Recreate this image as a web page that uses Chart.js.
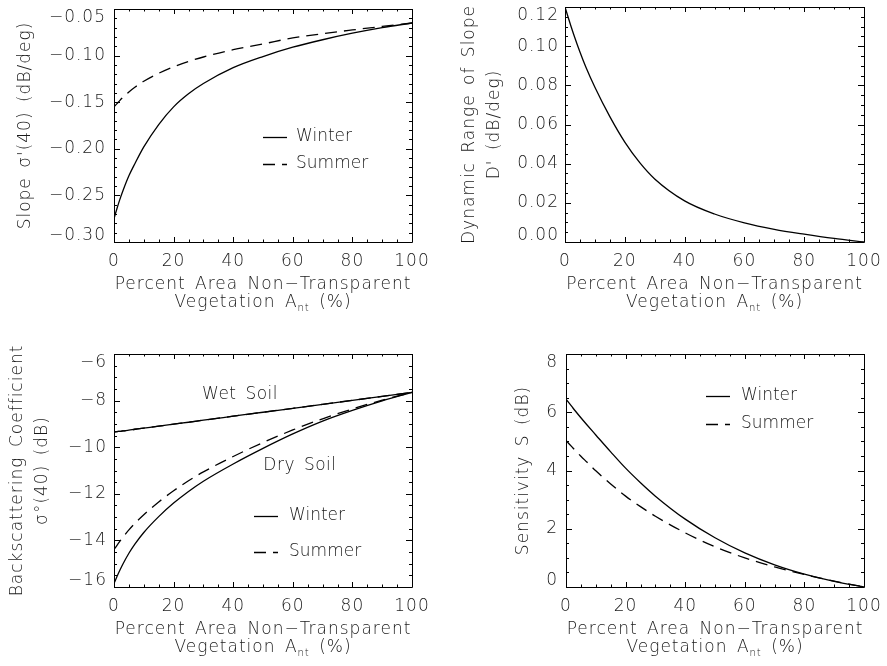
<!DOCTYPE html>
<html>
<head>
<meta charset="utf-8">
<script src="https://cdn.jsdelivr.net/npm/chart.js@4.4.1/dist/chart.umd.min.js"></script>
<style>
  html, body { margin: 0; padding: 0; background: #fff; }
  #page { position: relative; width: 887px; height: 666px; overflow: hidden; }
  #page canvas { position: absolute; }
</style>
</head>
<body>
<div id="page">
  <canvas id="slopeChart" width="443" height="333" style="left:0;top:0"></canvas>
  <canvas id="rangeChart" width="444" height="333" style="left:443px;top:0"></canvas>
  <canvas id="backscatterChart" width="443" height="333" style="left:0;top:333px"></canvas>
  <canvas id="sensitivityChart" width="444" height="333" style="left:443px;top:333px"></canvas>
</div>
<script>
// percent area of non-transparent vegetation, shared x for all four panels
const percentArea = [0, 1, 2, 3, 5, 7, 10, 15, 20, 25, 30, 40, 50, 60, 70, 80, 90, 100];

// slope of sigma at 40 deg (dB/deg)
const slopeWinter = [-0.275, -0.264, -0.254, -0.245, -0.229, -0.216, -0.198, -0.174, -0.155, -0.141, -0.130, -0.113, -0.101, -0.091, -0.083, -0.076, -0.070, -0.065];
const slopeSummer = [-0.155, -0.1515, -0.148, -0.1448, -0.139, -0.134, -0.1275, -0.119, -0.112, -0.1063, -0.1015, -0.0937, -0.0875, -0.081, -0.0765, -0.0725, -0.0687, -0.065];

// dynamic range of slope D' (dB/deg)
const slopeRange = [0.1200, 0.1150, 0.1102, 0.1056, 0.0970, 0.0892, 0.0790, 0.0640, 0.0510, 0.0405, 0.0322, 0.0210, 0.0143, 0.0098, 0.0065, 0.0040, 0.0018, 0.0000];

// backscattering coefficient sigma0(40) (dB)
const wetSoilWinter = [-9.35, -9.33, -9.32, -9.30, -9.27, -9.23, -9.18, -9.10, -9.01, -8.93, -8.84, -8.67, -8.50, -8.33, -8.16, -7.99, -7.82, -7.65];
const wetSoilSummer = [-9.35, -9.33, -9.32, -9.30, -9.27, -9.23, -9.18, -9.10, -9.01, -8.93, -8.84, -8.67, -8.50, -8.33, -8.16, -7.99, -7.82, -7.65];
const drySoilWinter = [-15.85, -15.55, -15.27, -15.01, -14.55, -14.16, -13.66, -12.98, -12.40, -11.90, -11.46, -10.72, -10.05, -9.43, -8.88, -8.42, -8.01, -7.65];
const drySoilSummer = [-14.40, -14.21, -14.03, -13.86, -13.55, -13.27, -12.90, -12.35, -11.87, -11.44, -11.06, -10.40, -9.80, -9.26, -8.78, -8.36, -7.98, -7.65];

// sensitivity S (dB)
const sensWinter = [6.45, 6.32, 6.19, 6.06, 5.81, 5.57, 5.22, 4.64, 4.08, 3.58, 3.12, 2.33, 1.69, 1.17, 0.76, 0.44, 0.19, 0.00];
const sensSummer = [5.03, 4.92, 4.81, 4.70, 4.49, 4.29, 3.99, 3.54, 3.12, 2.76, 2.43, 1.86, 1.38, 1.00, 0.69, 0.43, 0.20, 0.00];

// major tick values
const xTicks = [0, 20, 40, 60, 80, 100];
const slopeTicks = [-0.30, -0.25, -0.20, -0.15, -0.10, -0.05];
const rangeTicks = [0.00, 0.02, 0.04, 0.06, 0.08, 0.10, 0.12];
const backscatterTicks = [-16, -14, -12, -10, -8, -6];
const sensitivityTicks = [0, 2, 4, 6, 8];

const INK = '#1a1a1a';
const FONT = 'DejaVu Sans';
const WEIGHT = '200';
const DASH = [12, 7];

Chart.defaults.font.family = FONT;
Chart.defaults.font.size = 17;
Chart.defaults.font.weight = WEIGHT;
Chart.defaults.color = INK;

const font = size => WEIGHT + ' ' + size + 'px "' + FONT + '"';
const minus = s => s.replace('-', '\u2212');

function series(values) {
  return percentArea.map((x, i) => ({ x: x, y: values[i] }));
}

function line(label, values, dashed) {
  return {
    label: label,
    data: series(values),
    borderColor: '#000',
    borderWidth: 1.3,
    borderDash: dashed ? DASH : [],
    pointRadius: 0,
    fill: false,
    cubicInterpolationMode: 'monotone'
  };
}

// list major and minor tick values between the majors
function tickMarks(majors, divisions) {
  const out = [];
  majors.forEach((v, i) => {
    out.push({ v: v, major: true });
    if (i < majors.length - 1) {
      const step = (majors[i + 1] - v) / divisions;
      for (let k = 1; k < divisions; k++) out.push({ v: v + k * step, major: false });
    }
  });
  return out;
}

// box around the plot with inward ticks on all four sides
const framePlugin = {
  id: 'frame',
  beforeDraw(chart) {
    chart.ctx.letterSpacing = '1px';
    chart.ctx.wordSpacing = '3px';
    // keep the end labels of the y axis inside the box
    const items = chart.scales.y.getLabelItems();
    if (!items.shifted && items.length) {
      items[0].options.translation[1] -= 6;
      items[items.length - 1].options.translation[1] += 9;
      items.shifted = true;
    }
  },
  afterDraw(chart, args, opts) {
    const { ctx, chartArea: a, scales: { x, y } } = chart;
    ctx.save();
    ctx.strokeStyle = '#000';
    ctx.lineWidth = 1;
    ctx.beginPath();
    ctx.rect(a.left + 0.5, a.top + 0.5, a.right - a.left, a.bottom - a.top);
    tickMarks(opts.xMajor, opts.xDiv).forEach(t => {
      const px = Math.round(x.getPixelForValue(t.v)) + 0.5;
      const len = t.major ? 5 : 2.5;
      ctx.moveTo(px, a.bottom); ctx.lineTo(px, a.bottom - len);
      ctx.moveTo(px, a.top); ctx.lineTo(px, a.top + len);
    });
    tickMarks(opts.yMajor, opts.yDiv).forEach(t => {
      const py = Math.round(y.getPixelForValue(t.v)) + 0.5;
      const len = t.major ? 6 : 3;
      ctx.moveTo(a.left, py); ctx.lineTo(a.left + len, py);
      ctx.moveTo(a.right, py); ctx.lineTo(a.right - len, py);
    });
    ctx.stroke();
    ctx.restore();
  }
};

// two line x axis title with the A_nt subscript
const xTitlePlugin = {
  id: 'xTitle',
  afterDraw(chart) {
    const { ctx, chartArea: a } = chart;
    const cx = (a.left + a.right) / 2;
    ctx.save();
    ctx.fillStyle = INK;
    ctx.textBaseline = 'middle';
    ctx.font = font(17);
    ctx.textAlign = 'center';
    ctx.fillText('Percent Area Non\u2212Transparent', cx, a.bottom + 43);
    const head = 'Vegetation A', tail = ' (%)', sub = 'nt';
    const wHead = ctx.measureText(head).width;
    const wTail = ctx.measureText(tail).width;
    ctx.font = font(10);
    const wSub = ctx.measureText(sub).width;
    const x0 = cx - (wHead + wSub + wTail) / 2;
    const y2 = a.bottom + 61;
    ctx.textAlign = 'left';
    ctx.font = font(17);
    ctx.fillText(head, x0, y2);
    ctx.font = font(10);
    ctx.fillText(sub, x0 + wHead, y2 + 5);
    ctx.font = font(17);
    ctx.fillText(tail, x0 + wHead + wSub, y2);
    ctx.restore();
  }
};

// line key inside the plot
const keyPlugin = {
  id: 'key',
  afterDatasetsDraw(chart, args, opts) {
    if (!opts.items) return;
    const { ctx } = chart;
    ctx.save();
    ctx.font = font(17);
    ctx.letterSpacing = '0px';
    ctx.textBaseline = 'middle';
    ctx.fillStyle = INK;
    opts.items.forEach((idx, i) => {
      const ds = chart.data.datasets[idx];
      const y = opts.y + i * opts.step;
      ctx.strokeStyle = '#000';
      ctx.lineWidth = 1.3;
      ctx.setLineDash(ds.borderDash || []);
      ctx.beginPath();
      ctx.moveTo(opts.x, y + 0.5);
      ctx.lineTo(opts.x + 24, y + 0.5);
      ctx.stroke();
      ctx.setLineDash([]);
      ctx.fillText(ds.label, opts.textX, y);
    });
    ctx.restore();
  }
};

// text notes placed at data coordinates
const notePlugin = {
  id: 'notes',
  afterDatasetsDraw(chart, args, opts) {
    if (!opts.items) return;
    const { ctx, scales: { x, y } } = chart;
    ctx.save();
    ctx.font = font(17);
    ctx.letterSpacing = '0.5px';
    ctx.textAlign = 'center';
    ctx.textBaseline = 'middle';
    ctx.fillStyle = INK;
    opts.items.forEach(n => ctx.fillText(n.text, x.getPixelForValue(n.x), y.getPixelForValue(n.y)));
    ctx.restore();
  }
};

function panel(id, cfg) {
  const canvas = document.getElementById(id);
  const W = canvas.width, H = canvas.height;
  const area = cfg.area;
  return new Chart(canvas, {
    type: 'line',
    data: { datasets: cfg.datasets },
    plugins: [framePlugin, xTitlePlugin, keyPlugin, notePlugin],
    options: {
      responsive: false,
      animation: false,
      events: [],
      layout: { padding: { left: 0, top: area.top, right: W - area.right, bottom: 0 } },
      scales: {
        x: {
          type: 'linear',
          min: 0,
          max: 100,
          afterBuildTicks: s => { s.ticks = xTicks.map(v => ({ value: v })); },
          afterFit: s => { s.height = H - area.bottom; s.paddingLeft = 0; s.paddingRight = 0; },
          grid: { display: false, drawTicks: false },
          border: { display: false },
          ticks: { padding: 9, color: INK, maxRotation: 0, callback: v => String(v) }
        },
        y: {
          type: 'linear',
          min: cfg.yTicks[0],
          max: cfg.yTicks[cfg.yTicks.length - 1],
          afterBuildTicks: s => { s.ticks = cfg.yTicks.map(v => ({ value: v })); },
          afterFit: s => { s.width = area.left; s.paddingTop = 0; s.paddingBottom = 0; },
          grid: { display: false, drawTicks: false },
          border: { display: false },
          ticks: { padding: cfg.labelPad, color: INK, callback: cfg.format },
          title: {
            display: true,
            text: cfg.yTitle,
            color: INK,
            font: { size: 17, lineHeight: cfg.titleLine },
            padding: { top: cfg.titlePad, bottom: 0 }
          }
        }
      },
      plugins: {
        legend: { display: false },
        tooltip: { enabled: false },
        frame: { xMajor: xTicks, xDiv: 4, yMajor: cfg.yTicks, yDiv: cfg.yDiv },
        key: cfg.key || {},
        notes: { items: cfg.notes }
      }
    }
  });
}

panel('slopeChart', {
  area: { left: 114, right: 412, top: 9, bottom: 242 },
  yTicks: slopeTicks,
  yDiv: 5,
  format: v => minus(v.toFixed(2)),
  labelPad: 8,
  yTitle: "Slope \u03c3'(40) (dB/deg)",
  titleLine: 1.2,
  titlePad: 15,
  datasets: [line('Winter', slopeWinter, false), line('Summer', slopeSummer, true)],
  key: { items: [0, 1], x: 263, textX: 296, y: 137, step: 27 }
});

panel('rangeChart', {
  area: { left: 122, right: 421, top: 7, bottom: 242 },
  yTicks: rangeTicks,
  yDiv: 4,
  format: v => v.toFixed(2),
  labelPad: 6,
  yTitle: ['Dynamic Range of Slope', "D' (dB/deg)"],
  titleLine: 1.47,
  titlePad: 14,
  datasets: [line("D'", slopeRange, false)]
});

panel('backscatterChart', {
  area: { left: 114, right: 412, top: 21, bottom: 254 },
  yTicks: backscatterTicks,
  yDiv: 4,
  format: v => minus(String(v)),
  labelPad: 7,
  yTitle: ['Backscattering Coefficient', '\u03c3\u00b0(40) (dB)'],
  titleLine: 1.47,
  titlePad: 5,
  datasets: [
    line('Winter', drySoilWinter, false),
    line('Summer', drySoilSummer, true),
    line('Wet Soil Winter', wetSoilWinter, false),
    line('Wet Soil Summer', wetSoilSummer, true)
  ],
  key: { items: [0, 1], x: 254, textX: 289, y: 183, step: 36 },
  notes: [
    { text: 'Wet Soil', x: 42.3, y: -7.76 },
    { text: 'Dry Soil', x: 62.4, y: -10.81 }
  ]
});

panel('sensitivityChart', {
  area: { left: 123, right: 421, top: 21, bottom: 254 },
  yTicks: sensitivityTicks,
  yDiv: 4,
  format: v => String(v),
  labelPad: 8,
  yTitle: 'Sensitivity S (dB)',
  titleLine: 1.2,
  titlePad: 70,
  datasets: [line('Winter', sensWinter, false), line('Summer', sensSummer, true)],
  key: { items: [0, 1], x: 263, textX: 298, y: 63, step: 28 }
});
</script>
</body>
</html>
